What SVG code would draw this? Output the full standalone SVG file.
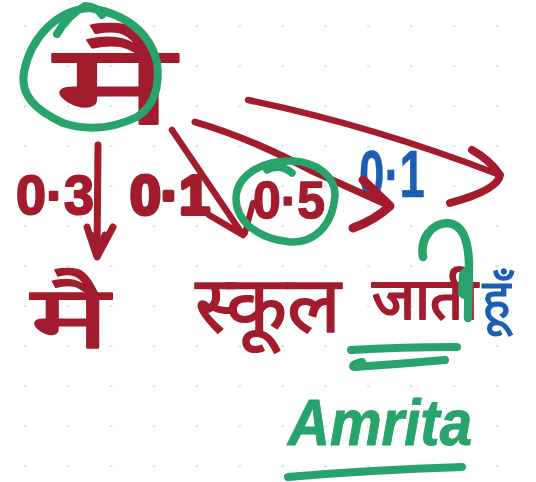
<svg xmlns="http://www.w3.org/2000/svg" width="536" height="482" viewBox="0 0 536 482">
<style>
.g,.r,.b{fill:none;stroke-linecap:round;stroke-linejoin:round}
.g{stroke:#27a36b}.r{stroke:#a31c2e}.b{stroke:#1a5fb4}
text{font-family:"Noto Sans","Noto Sans Devanagari","Lohit Devanagari","Liberation Sans",sans-serif;stroke-linejoin:round}
.tr{fill:#a31c2e;stroke:#a31c2e}.tg{fill:#27a36b;stroke:#27a36b}.tb{fill:#1a5fb4;stroke:#1a5fb4}
.d{font-family:"Liberation Sans",sans-serif;font-weight:700}
</style>
<defs>
<pattern id="dots" x="24" y="25" width="42.9" height="40" patternUnits="userSpaceOnUse"><rect width="2.5" height="2.5" fill="#d5e6fb"/></pattern>
</defs>
<rect width="536" height="482" fill="#fff"/>
<rect width="536" height="482" fill="url(#dots)"/>
<g id="labels">
<text class="tr" x="53" y="124" font-size="112" stroke-width="2" textLength="122" lengthAdjust="spacingAndGlyphs">मै</text>
<text class="tr d" x="16" y="214" font-size="56" stroke-width="2" textLength="78" lengthAdjust="spacingAndGlyphs">0·3</text>
<text class="tr d" x="130" y="214" font-size="56" stroke-width="4" textLength="80" lengthAdjust="spacingAndGlyphs">0·1</text>
<text class="tr d" x="253" y="218" font-size="52" stroke-width="1.5" textLength="72" lengthAdjust="spacingAndGlyphs">0·5</text>
<text class="tb d" x="359" y="197" font-size="66" stroke-width="0.5" textLength="66" lengthAdjust="spacingAndGlyphs">0·1</text>
<text class="tr" x="30" y="348" font-size="88" stroke-width="1.5" textLength="80" lengthAdjust="spacingAndGlyphs">मै</text>
<text class="tr" x="195" y="332" font-size="78" stroke-width="1.5" textLength="146" lengthAdjust="spacingAndGlyphs">स्कूल</text>
<text class="tr" x="372" y="319" font-size="58" stroke-width="2">जाती</text>
<text class="tb" x="482" y="318" font-size="54" stroke-width="1">हूँ</text>
<text class="tg" x="288" y="445" font-size="64" stroke-width="1" textLength="184" lengthAdjust="spacingAndGlyphs" style="font-family:'Liberation Sans',sans-serif;font-style:italic;font-weight:700">Amrita</text>
</g>
<g id="connectors">
<path class="r" stroke-width="7" d="M98 145L97 255"/>
<path class="r" stroke-width="7" d="M87 227L97 257L113 227M91 235L97 255M105 235L97 255"/>
<path class="r" stroke-width="6.5" d="M172 130L243 235M209 215L243 235"/>
<path class="r" stroke-width="6" d="M253 203L245 233"/>
<path class="r" stroke-width="7" d="M195 122Q250 138 310 170L390 206"/>
<path class="r" stroke-width="9" d="M363 180L390 206Q375 220 353 228"/>
<path class="r" stroke-width="6.5" d="M248 100Q370 125 500 175"/>
<path class="r" stroke-width="8" d="M472 150Q490 160 500 175Q498 190 450 203"/>
</g>
<g id="marks">
<path class="g" stroke-width="8" d="M57 34Q68 15 85 6Q96 6 102 15M90 8C55 10 30 40 24 72C20 95 35 110 63 123C85 130 110 130 137 117C155 105 160 85 157 62C150 35 130 15 90 8"/>
<path class="g" stroke-width="7.5" d="M267 170Q280 163 292 173M293 161C262 160 237 175 236 198C236 220 255 238 290 242C315 243 333 225 335 195C335 175 315 162 293 161"/>
<path class="g" stroke-width="8.5" d="M423 257C420 240 430 224 447 223C463 224 468 240 469 263L468 318"/>
<path class="g" stroke-width="14" d="M466 275L465 292"/>
<path class="g" stroke-width="8" d="M351 350Q400 347 457 347"/>
<path class="g" stroke-width="8" d="M362 362Q350 365 354 367Q400 364 445 360"/>
<path class="g" stroke-width="8" d="M288 477Q370 470 462 467"/>
</g>
</svg>
